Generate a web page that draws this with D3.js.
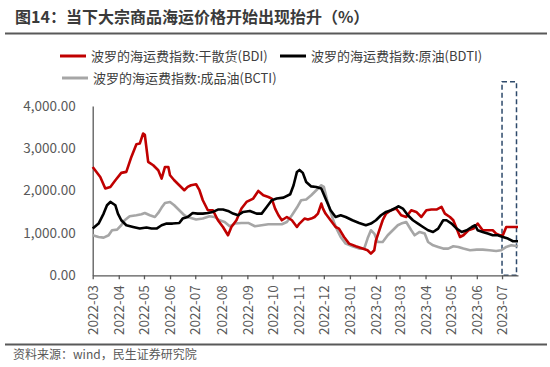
<!DOCTYPE html>
<html>
<head>
<meta charset="utf-8">
<script src="https://cdn.jsdelivr.net/npm/d3@7"></script>
<style>
  body { margin: 0; background: #fff; }
  svg { display: block; font-family: "Noto Sans CJK SC", "Liberation Sans", sans-serif; }
</style>
</head>
<body>
<svg></svg>
<script>
const size = {w: 550, h: 367};
const margin = {l: 92.7, r: 518, t: 106, b: 275.3};

const titleText = '图14：当下大宗商品海运价格开始出现抬升（%）';
const sourceText = '资料来源：wind，民生证券研究院';
const seriesNames = ['波罗的海运费指数:干散货(BDI)', '波罗的海运费指数:原油(BDTI)', '波罗的海运费指数:成品油(BCTI)'];
const seriesColors = ['#c00000', '#000000', '#a6a6a6'];
const yTicks = [0, 1000, 2000, 3000, 4000];
const dateRange = ['2022-03-01', '2023-07-20'];

// BDI 干散货
const bdi = [
  ['2022-03-01',2560],['2022-03-10',2324],['2022-03-16',2050],['2022-03-22',2088],['2022-03-28',2246],
  ['2022-04-04',2420],['2022-04-10',2443],['2022-04-16',2797],['2022-04-22',3097],['2022-04-26',3113],
  ['2022-04-30',3350],['2022-05-02',3320],['2022-05-06',2680],['2022-05-12',2600],['2022-05-18',2482],
  ['2022-05-22',2286],['2022-05-26',2560],['2022-05-30',2560],['2022-06-01',2364],['2022-06-06',2246],
  ['2022-06-12',2128],['2022-06-18',2010],['2022-06-22',2088],['2022-06-26',2128],['2022-07-02',2151],
  ['2022-07-06',2010],['2022-07-10',1773],['2022-07-16',1537],['2022-07-22',1537],['2022-07-28',1300],
  ['2022-08-03',1142],['2022-08-09',946],['2022-08-13',1142],['2022-08-19',1300],['2022-08-25',1577],
  ['2022-08-31',1733],['2022-09-08',1813],['2022-09-14',1993],['2022-09-20',1891],['2022-09-26',1851],
  ['2022-09-30',1813],['2022-10-04',1577],['2022-10-08',1418],['2022-10-12',1300],['2022-10-18',1378],
  ['2022-10-24',1300],['2022-10-30',1142],['2022-11-02',1222],['2022-11-08',1340],['2022-11-12',1317],
  ['2022-11-16',1340],['2022-11-20',1378],['2022-11-24',1458],['2022-11-28',1695],['2022-11-30',1577],
  ['2022-12-03',1458],['2022-12-09',1300],['2022-12-15',1142],['2022-12-19',1104],['2022-12-25',905],
  ['2022-12-31',749],['2023-01-08',686],['2023-01-16',631],['2023-01-22',591],['2023-01-26',513],
  ['2023-01-30',591],['2023-02-01',827],['2023-02-05',1064],['2023-02-09',1300],['2023-02-13',1458],
  ['2023-02-19',1537],['2023-02-25',1577],['2023-03-03',1418],['2023-03-09',1378],['2023-03-15',1537],
  ['2023-03-21',1497],['2023-03-27',1378],['2023-04-02',1537],['2023-04-08',1553],['2023-04-14',1553],
  ['2023-04-20',1615],['2023-04-24',1458],['2023-04-30',1378],['2023-05-04',1300],['2023-05-08',1104],
  ['2023-05-12',905],['2023-05-16',946],['2023-05-22',1064],['2023-05-28',1104],['2023-06-02',1222],
  ['2023-06-08',1064],['2023-06-14',1064],['2023-06-20',1064],['2023-06-24',986],['2023-06-28',946],
  ['2023-07-02',946],['2023-07-06',1142],['2023-07-14',1142],['2023-07-20',1142]
];

// BDTI 原油
const bdti = [
  ['2022-03-01',1104],['2022-03-08',1222],['2022-03-14',1458],['2022-03-18',1655],['2022-03-22',1733],
  ['2022-03-28',1655],['2022-03-31',1458],['2022-04-04',1300],['2022-04-10',1182],['2022-04-18',1142],
  ['2022-04-26',1104],['2022-05-04',1128],['2022-05-10',1104],['2022-05-16',1104],['2022-05-22',1182],
  ['2022-05-28',1222],['2022-06-04',1222],['2022-06-12',1237],['2022-06-16',1340],['2022-06-22',1378],
  ['2022-06-28',1473],['2022-07-04',1458],['2022-07-10',1458],['2022-07-16',1473],['2022-07-22',1497],
  ['2022-07-28',1553],['2022-08-03',1553],['2022-08-09',1521],['2022-08-15',1458],['2022-08-21',1418],
  ['2022-08-27',1497],['2022-09-04',1521],['2022-09-12',1458],['2022-09-18',1458],['2022-09-24',1615],
  ['2022-09-30',1773],['2022-10-06',1813],['2022-10-14',1836],['2022-10-22',1915],['2022-10-26',2128],
  ['2022-10-30',2443],['2022-11-02',2490],['2022-11-06',2420],['2022-11-10',2206],['2022-11-16',2100],
  ['2022-11-22',2088],['2022-11-28',2050],['2022-12-03',1813],['2022-12-09',1537],['2022-12-15',1378],
  ['2022-12-21',1418],['2022-12-27',1378],['2023-01-04',1300],['2023-01-12',1237],['2023-01-20',1182],
  ['2023-01-26',1222],['2023-02-01',1300],['2023-02-07',1418],['2023-02-13',1497],['2023-02-19',1537],
  ['2023-02-25',1600],['2023-02-28',1631],['2023-03-05',1577],['2023-03-11',1418],['2023-03-17',1300],
  ['2023-03-23',1222],['2023-03-29',1142],['2023-04-04',1064],['2023-04-10',1024],['2023-04-16',1104],
  ['2023-04-22',1300],['2023-04-26',1300],['2023-05-02',1222],['2023-05-08',1104],['2023-05-14',1024],
  ['2023-05-20',1064],['2023-05-26',1142],['2023-05-30',1182],['2023-06-02',1064],['2023-06-08',1024],
  ['2023-06-14',986],['2023-06-20',946],['2023-06-26',946],['2023-07-02',905],['2023-07-08',867],
  ['2023-07-14',804],['2023-07-20',804]
];

// BCTI 成品油
const bcti = [
  ['2022-03-01',946],['2022-03-08',905],['2022-03-14',891],['2022-03-20',946],['2022-03-24',1064],
  ['2022-03-30',1080],['2022-04-04',1182],['2022-04-08',1300],['2022-04-14',1395],['2022-04-22',1418],
  ['2022-04-28',1442],['2022-05-02',1473],['2022-05-08',1418],['2022-05-14',1378],['2022-05-18',1473],
  ['2022-05-22',1600],['2022-05-26',1710],['2022-06-01',1733],['2022-06-06',1655],['2022-06-12',1537],
  ['2022-06-18',1418],['2022-06-24',1364],['2022-07-02',1317],['2022-07-10',1340],['2022-07-18',1395],
  ['2022-07-24',1378],['2022-07-30',1300],['2022-08-05',1260],['2022-08-11',1158],['2022-08-17',1222],
  ['2022-08-25',1237],['2022-09-02',1237],['2022-09-10',1158],['2022-09-18',1182],['2022-09-26',1205],
  ['2022-10-04',1205],['2022-10-12',1205],['2022-10-18',1260],['2022-10-24',1418],['2022-10-30',1600],
  ['2022-11-04',1773],['2022-11-10',1790],['2022-11-16',1891],['2022-11-22',2010],['2022-11-28',2128],
  ['2022-12-01',2088],['2022-12-05',1773],['2022-12-09',1497],['2022-12-13',1260],['2022-12-17',1064],
  ['2022-12-21',905],['2022-12-27',749],['2023-01-04',686],['2023-01-12',631],['2023-01-18',631],
  ['2023-01-22',867],['2023-01-26',1064],['2023-01-30',986],['2023-02-03',787],['2023-02-09',787],
  ['2023-02-15',946],['2023-02-21',1064],['2023-02-27',1182],['2023-03-03',1222],['2023-03-09',1260],
  ['2023-03-15',1064],['2023-03-19',946],['2023-03-25',1024],['2023-03-31',986],['2023-04-04',787],
  ['2023-04-10',709],['2023-04-16',670],['2023-04-22',631],['2023-04-28',631],['2023-05-04',686],
  ['2023-05-10',670],['2023-05-16',631],['2023-05-24',591],['2023-06-01',607],['2023-06-08',607],
  ['2023-06-16',591],['2023-06-24',575],['2023-06-30',591],['2023-07-06',670],['2023-07-12',709],
  ['2023-07-20',686]
];

const parse = d3.timeParse('%Y-%m-%d');
const svg = d3.select('svg').attr('width', size.w).attr('height', size.h);

// title + rules
svg.append('text').attr('x', 15).attr('y', 17).attr('dy', '0.35em')
  .style('font-size', '16px').style('font-weight', 'bold').style('fill', '#3a3a3a')
  .text(titleText);
svg.append('line').attr('x1', 5).attr('x2', 547).attr('y1', 33.5).attr('y2', 33.5)
  .style('stroke', '#595959').style('stroke-width', 2);
svg.append('line').attr('x1', 5).attr('x2', 547).attr('y1', 344.5).attr('y2', 344.5)
  .style('stroke', '#595959').style('stroke-width', 2);
svg.append('text').attr('x', 13).attr('y', 355).attr('dy', '0.35em')
  .style('font-size', '12px').style('fill', '#595959').text(sourceText);

// scales
const x = d3.scaleTime().domain(dateRange.map(parse)).range([margin.l, margin.r]);
const y = d3.scaleLinear().domain([0, 4000]).range([margin.b, margin.t]);

// dashed highlight box
svg.append('rect')
  .attr('x', x(parse('2023-07-01')))
  .attr('y', 81.7)
  .attr('width', x(parse('2023-07-20')) - x(parse('2023-07-01')) - 1.5)
  .attr('height', margin.b - 81.7)
  .style('fill', 'none').style('stroke', '#2e4a6b').style('stroke-width', 1.5)
  .style('stroke-dasharray', '5,3');

// axes
const yAxis = svg.append('g').attr('transform', `translate(${margin.l},0)`)
  .call(d3.axisLeft(y).tickValues(yTicks).tickSize(0).tickSizeOuter(0).tickPadding(17).tickFormat(d3.format(',.2f')));
yAxis.select('.domain').style('stroke', '#595959').style('stroke-width', 1.3);
yAxis.selectAll('text').style('font-size', '13.5px').style('fill', '#595959')
  .style('font-family', '"Noto Sans CJK SC", sans-serif');

const months = d3.timeMonth.range(parse('2022-03-01'), parse('2023-07-02'));
const xAxis = svg.append('g').attr('transform', `translate(0,${margin.b})`)
  .call(d3.axisBottom(x).tickValues(months).tickSize(4).tickSizeOuter(0).tickFormat(d3.timeFormat('%Y-%m')));
xAxis.select('.domain').style('stroke', '#595959').style('stroke-width', 1.3);
xAxis.selectAll('.tick line').style('stroke', '#595959').style('stroke-width', 1.3);
xAxis.selectAll('text')
  .attr('transform', 'rotate(-90)')
  .attr('x', -10).attr('y', 0).attr('dy', '0.35em')
  .style('text-anchor', 'end')
  .style('font-size', '13.5px').style('fill', '#595959')
  .style('font-family', '"Noto Sans CJK SC", sans-serif');

// lines (gray first so red/black sit on top)
const line = d3.line().x(d => x(parse(d[0]))).y(d => y(d[1]));
const series = [bdi, bdti, bcti];
const drawOrder = [2, 0, 1];
for (const i of drawOrder) {
  svg.append('path').datum(series[i]).attr('d', line)
    .style('fill', 'none').style('stroke', seriesColors[i])
    .style('stroke-width', 2.6).style('stroke-linejoin', 'round');
}

// legend
const legendPos = [[60, 56], [280, 56], [62, 78]];
seriesNames.forEach((name, i) => {
  const g = svg.append('g').attr('transform', `translate(${legendPos[i][0]},${legendPos[i][1]})`);
  g.append('line').attr('x1', 0).attr('x2', 26).style('stroke', seriesColors[i]).style('stroke-width', 3);
  g.append('text').attr('x', 31).attr('dy', '0.35em')
    .style('font-size', '13px').style('fill', '#404040').text(name);
});
</script>
</body>
</html>
